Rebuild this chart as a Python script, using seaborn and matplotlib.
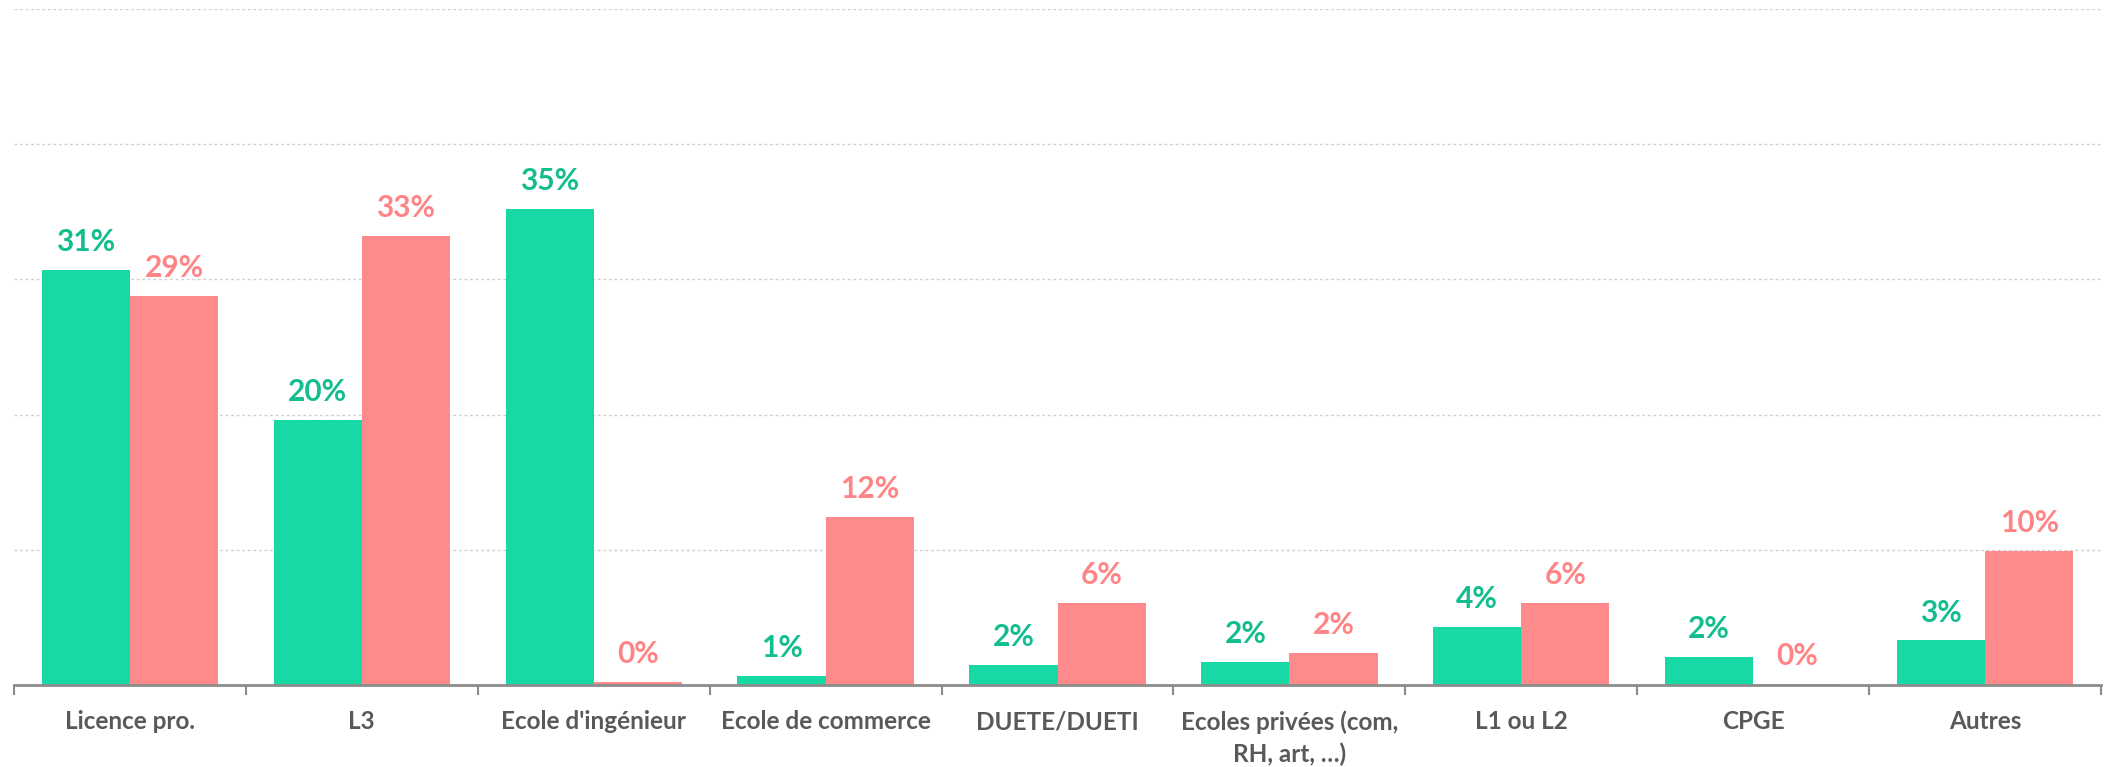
import matplotlib
matplotlib.use("Agg")
import matplotlib.pyplot as plt
import pandas as pd
import seaborn as sns

# Parcours après le diplôme : parts en % pour deux séries
categories = [
    "Licence pro.",
    "L3",
    "Ecole d'ingénieur",
    "Ecole de commerce",
    "DUETE/DUETI",
    "Ecoles privées (com,\nRH, art, …)",
    "L1 ou L2",
    "CPGE",
    "Autres",
]
serie_1 = [30.7, 19.6, 35.2, 0.7, 1.5, 1.7, 4.3, 2.1, 3.3]
serie_2 = [28.8, 33.2, 0.2, 12.4, 6.1, 2.4, 6.1, 0.1, 9.9]
series_names = ["Série 1", "Série 2"]

colors = ["#17D9A6", "#FF8A8C"]
label_colors = ["#14BD8F", "#FF8486"]

df = pd.DataFrame({
    "categorie": categories * 2,
    "valeur": serie_1 + serie_2,
    "serie": [series_names[0]] * len(categories) + [series_names[1]] * len(categories),
})

sns.set_theme(style="white")
plt.rcParams["font.family"] = ["Lato", "DejaVu Sans"]

fig = plt.figure(figsize=(21.11, 7.67), dpi=100)
ax = fig.add_axes([0.0066, 0.1069, 0.9887, 0.8814])

sns.barplot(
    data=df, x="categorie", y="valeur", hue="serie",
    order=categories, hue_order=series_names,
    palette=colors, width=0.76, gap=0, saturation=1,
    legend=False, ax=ax, edgecolor="none", linewidth=0,
)

ax.set_ylim(0, 50)
ax.set_xlim(-0.5, len(categories) - 0.5)

# Étiquettes de valeur au-dessus des barres
for container, col in zip(ax.containers, label_colors):
    vals = [b.get_height() for b in container]
    ax.bar_label(container, labels=[f"{round(v)}%" for v in vals],
                 padding=10, color=col, fontsize=21.5, fontweight="bold")

# Grille horizontale pointillée
ax.set_yticks([10, 20, 30, 40, 50])
ax.yaxis.grid(True, color="#CFCFCF", linestyle=(0, (2, 2)), linewidth=1)
ax.set_axisbelow(True)
ax.tick_params(axis="y", left=False, labelleft=False)

# Axe horizontal avec graduations entre les groupes
for side in ["top", "right", "left"]:
    ax.spines[side].set_visible(False)
ax.spines["bottom"].set_color("#8C8C8C")
ax.spines["bottom"].set_linewidth(2)

ax.set_xticks(range(len(categories)))
ax.set_xticklabels(categories, fontsize=17.5, fontweight="bold",
                   color="#595959", linespacing=1.45)
ax.tick_params(axis="x", which="major", length=0, pad=18)
ax.set_xticks([i - 0.5 for i in range(len(categories) + 1)], minor=True)
ax.tick_params(axis="x", which="minor", length=7, width=1.5, color="#8C8C8C",
               direction="out", bottom=True)

ax.set_xlabel("")
ax.set_ylabel("")

fig.savefig("out.png", dpi=100, facecolor="white")
